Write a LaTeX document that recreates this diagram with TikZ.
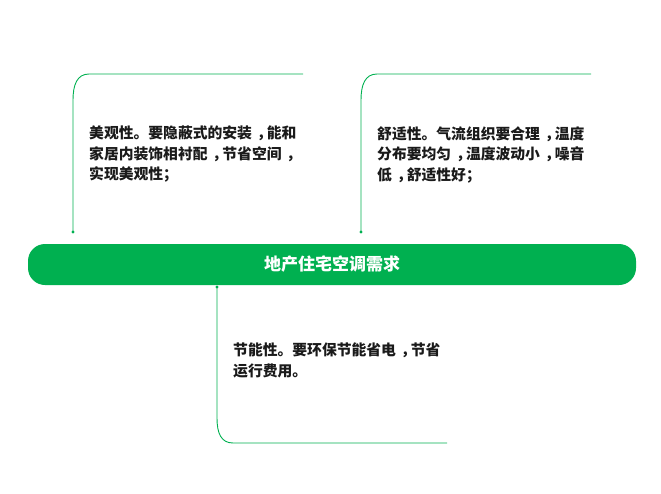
\documentclass[tikz,border=0pt]{standalone}
\usepackage{fontspec}
\setmainfont{Noto Sans CJK SC}
\definecolor{grn}{HTML}{00B050}
\definecolor{txt}{HTML}{1A1A1A}
\newcommand{\cmm}{\kern0.33em，\kern-0.33em}
\begin{document}
\begin{tikzpicture}[x=1pt,y=-1pt,
  bracket/.style={draw=grn,line width=0.9pt},
  enddot/.style={fill=grn,circle,inner sep=0pt,minimum size=3.2pt},
  bodytext/.style={anchor=north west,inner sep=0pt,align=left,text=txt,
    font=\fontsize{14.8}{20.5}\selectfont\bfseries},
  bar/.style={fill=grn,rounded corners=17pt,minimum width=608pt,minimum height=41pt,
    text=white,font=\fontsize{17}{20}\selectfont\bfseries}]
\useasboundingbox (0,0) rectangle (661,493);
\node[bar] (main) at (332,264.5) {地产住宅空调需求};
% top-left
\coordinate (a1) at (73,232);
\coordinate (a2) at (303,74);
\draw[bracket] (a1) -- (73,100) .. controls (73,85) and (77,74) .. (89,74) -- (a2);
\node[enddot] (d1) at (a1) {};
\node[bodytext] (t1) at (89,126) {美观性。要隐蔽式的安装\cmm 能和\\家居内装饰相衬配\cmm 节省空间\cmm\\实现美观性；};
% top-right
\coordinate (b1) at (361,232);
\coordinate (b2) at (591,74);
\draw[bracket] (b1) -- (361,100) .. controls (361,85) and (365,74) .. (377,74) -- (b2);
\node[enddot] (d2) at (b1) {};
\node[bodytext] (t2) at (377,126) {舒适性。气流组织要合理\cmm 温度\\分布要均匀\cmm 温度波动小\cmm 噪音\\低\cmm 舒适性好；};
% bottom
\coordinate (c1) at (217,287);
\coordinate (c2) at (447,443);
\draw[bracket] (c1) -- (217,418) .. controls (217,433) and (221,443) .. (233,443) -- (c2);
\node[enddot] (d3) at (c1) {};
\node[bodytext] (t3) at (233,343) {节能性。要环保节能省电\cmm 节省\\运行费用。};
\end{tikzpicture}
\end{document}
